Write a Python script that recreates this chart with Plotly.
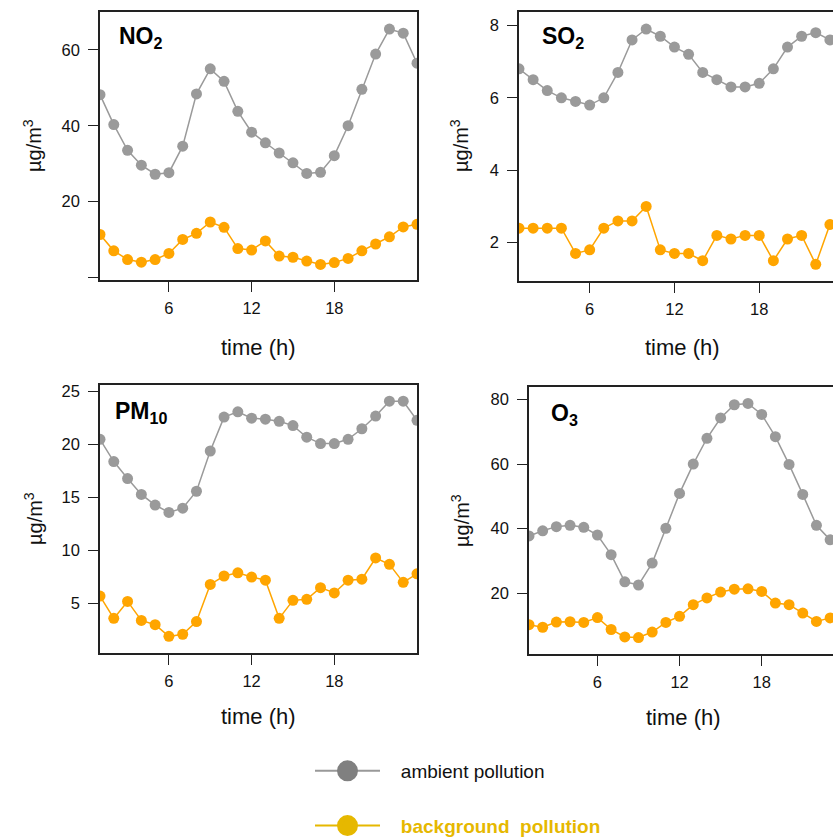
import plotly.graph_objects as go

# ---------------- data ----------------
hours = list(range(1, 25))
x_tick_vals = [6, 12, 18]
x_tick_text = ["6", "12", "18"]

no2_ambient = [48.2, 40.3, 33.5, 29.6, 27.2, 27.6, 34.6, 48.4, 55.0, 51.7, 43.8, 38.3,
               35.5, 32.8, 30.2, 27.4, 27.7, 32.1, 40.0, 49.6, 58.9, 65.5, 64.4, 56.5]
no2_background = [11.3, 7.0, 4.7, 4.0, 4.7, 6.3, 10.0, 11.6, 14.6, 13.2, 7.6, 7.2,
                  9.6, 5.6, 5.3, 4.3, 3.4, 3.9, 5.0, 7.0, 8.8, 10.7, 13.3, 14.0]
so2_ambient = [6.8, 6.5, 6.2, 6.0, 5.9, 5.8, 6.0, 6.7, 7.6, 7.9, 7.7, 7.4,
               7.2, 6.7, 6.5, 6.3, 6.3, 6.4, 6.8, 7.4, 7.7, 7.8, 7.6, 7.5]
so2_background = [2.4, 2.4, 2.4, 2.4, 1.7, 1.8, 2.4, 2.6, 2.6, 3.0, 1.8, 1.7,
                  1.7, 1.5, 2.2, 2.1, 2.2, 2.2, 1.5, 2.1, 2.2, 1.4, 2.5, 2.4]
pm10_ambient = [20.5, 18.4, 16.8, 15.3, 14.3, 13.6, 14.0, 15.6, 19.4, 22.6, 23.1, 22.5,
                22.4, 22.2, 21.8, 20.7, 20.1, 20.1, 20.5, 21.5, 22.7, 24.1, 24.1, 22.3]
pm10_background = [5.7, 3.6, 5.2, 3.4, 3.0, 1.9, 2.1, 3.3, 6.8, 7.6, 7.9, 7.5,
                   7.2, 3.6, 5.3, 5.4, 6.5, 6.0, 7.2, 7.3, 9.3, 8.7, 7.0, 7.8]
o3_ambient = [37.7, 39.3, 40.6, 41.0, 40.4, 38.0, 31.9, 23.5, 22.5, 29.3, 40.1, 50.9,
              60.0, 68.0, 74.3, 78.4, 78.8, 75.4, 68.5, 59.9, 50.6, 41.0, 36.5, 33.0]
o3_background = [10.2, 9.4, 11.0, 11.1, 10.9, 12.4, 8.7, 6.4, 6.2, 7.9, 10.9, 12.8,
                 16.4, 18.5, 20.3, 21.2, 21.3, 20.5, 16.9, 16.4, 13.8, 11.2, 12.3, 12.5]

panel_labels = ["NO<sub>2</sub>", "SO<sub>2</sub>", "PM<sub>10</sub>", "O<sub>3</sub>"]
y_ticks = [[0, 20, 40, 60], [2, 4, 6, 8], [5, 10, 15, 20, 25], [20, 40, 60, 80]]
y_tick_text = [["", "20", "40", "60"], ["2", "4", "6", "8"],
               ["5", "10", "15", "20", "25"], ["20", "40", "60", "80"]]
series_names = ["ambient pollution", "background  pollution"]

# ---------------- layout helpers ----------------
W, H = 833, 839
FONT = "Liberation Sans, Arial, Helvetica, sans-serif"
GRAY = "#9a9a9a"
ORANGE = "#FFA500"
GOLD = "#E6B800"
AXC = "#222222"


def px_x(p):
    return p / W


def px_y(p):
    return 1 - p / H


# panel boxes in pixels: left, right, top, bottom, x-range, y-range
panels = [
    dict(l=100, r=417, t=12, b=280, xr=[1, 24], yr=[-0.7, 70.0],
         amb=no2_ambient, bkg=no2_background, lab=(117, 38), ytl=(33, 146), xtl=(258, 347)),
    dict(l=519, r=833, t=12, b=281, xr=[1, 23.22], yr=[0.94, 8.37],
         amb=so2_ambient, bkg=so2_background, lab=(540, 38), ytl=(460, 146), xtl=(682, 347)),
    dict(l=100, r=417, t=385, b=653, xr=[1, 24], yr=[0.33, 25.63],
         amb=pm10_ambient, bkg=pm10_background, lab=(113, 413), ytl=(33, 519), xtl=(258, 716)),
    dict(l=529, r=833, t=387, b=654, xr=[1, 23.21], yr=[1.1, 83.9],
         amb=o3_ambient, bkg=o3_background, lab=(549, 414), ytl=(460, 521), xtl=(683, 717)),
]

fig = go.Figure()
annotations = []
layout_axes = {}

for i, p in enumerate(panels):
    n = i + 1
    xa = "x" if n == 1 else f"x{n}"
    ya = "y" if n == 1 else f"y{n}"
    xkey = "xaxis" if n == 1 else f"xaxis{n}"
    ykey = "yaxis" if n == 1 else f"yaxis{n}"
    right_cut = p["r"] >= W
    layout_axes[xkey] = dict(
        domain=[px_x(p["l"]), px_x(p["r"])], range=p["xr"], anchor=ya,
        tickvals=x_tick_vals, ticktext=x_tick_text, ticks="outside", ticklen=10,
        tickwidth=1.3, tickcolor=AXC, showline=True, linecolor=AXC, linewidth=1.5,
        mirror=True, showgrid=False, zeroline=False, ticklabelstandoff=2,
        tickfont=dict(family=FONT, size=16.5, color="#111"),
    )
    layout_axes[ykey] = dict(
        domain=[px_y(p["b"]), px_y(p["t"])], range=p["yr"], anchor=xa,
        tickvals=y_ticks[i], ticktext=y_tick_text[i], ticks="outside", ticklen=10,
        tickwidth=1.3, tickcolor=AXC, showline=True, linecolor=AXC, linewidth=1.5,
        mirror=(False if right_cut else True), showgrid=False, zeroline=False,
        ticklabelstandoff=5,
        tickfont=dict(family=FONT, size=16.5, color="#111"),
    )
    fig.add_trace(go.Scatter(
        x=hours, y=p["amb"], xaxis=xa, yaxis=ya, mode="lines+markers",
        line=dict(color=GRAY, width=1.5), marker=dict(color=GRAY, size=11),
        showlegend=False, cliponaxis=True, name=series_names[0]))
    fig.add_trace(go.Scatter(
        x=hours, y=p["bkg"], xaxis=xa, yaxis=ya, mode="lines+markers",
        line=dict(color=ORANGE, width=1.5), marker=dict(color=ORANGE, size=11),
        showlegend=False, cliponaxis=True, name=series_names[1]))

    annotations.append(dict(
        x=px_x(p["lab"][0]), y=px_y(p["lab"][1]), xref="paper", yref="paper",
        xanchor="left", yanchor="middle", showarrow=False,
        text=f"<b>{panel_labels[i]}</b>", font=dict(family=FONT, size=23, color="#000")))
    annotations.append(dict(
        x=px_x(p["ytl"][0]), y=px_y(p["ytl"][1]), xref="paper", yref="paper",
        xanchor="center", yanchor="middle", showarrow=False, textangle=-90,
        text="µg/m<sup>3</sup>", font=dict(family=FONT, size=20, color="#111")))
    annotations.append(dict(
        x=px_x(p["xtl"][0]), y=px_y(p["xtl"][1]), xref="paper", yref="paper",
        xanchor="center", yanchor="middle", showarrow=False,
        text="time (h)", font=dict(family=FONT, size=22, color="#111")))

# legend entries
fig.add_trace(go.Scatter(
    x=[None], y=[None], mode="lines+markers", name="   " + series_names[0],
    line=dict(color="#999999", width=2),
    marker=dict(color="#808080", size=16, line=dict(color="#808080", width=5)),
    legendgroup="a", showlegend=True))
fig.add_trace(go.Scatter(
    x=[None], y=[None], mode="lines+markers",
    name=f"<span style='color:{GOLD}'><b>   {series_names[1]}</b></span>",
    line=dict(color=GOLD, width=2),
    marker=dict(color=GOLD, size=16, line=dict(color=GOLD, width=5)),
    legendgroup="b", showlegend=True))

fig.update_layout(
    width=W, height=H, margin=dict(l=0, r=0, t=0, b=0, autoexpand=False),
    paper_bgcolor="white", plot_bgcolor="white",
    annotations=annotations,
    legend=dict(x=px_x(310), y=px_y(752), xanchor="left", yanchor="top",
                font=dict(family=FONT, size=19, color="#111"),
                itemwidth=65, tracegroupgap=27, bgcolor="rgba(0,0,0,0)"),
    **layout_axes,
)

fig.write_html("out.html", config={"displayModeBar": False},
               post_script="document.body.style.margin='0';document.body.style.overflow='hidden';")
